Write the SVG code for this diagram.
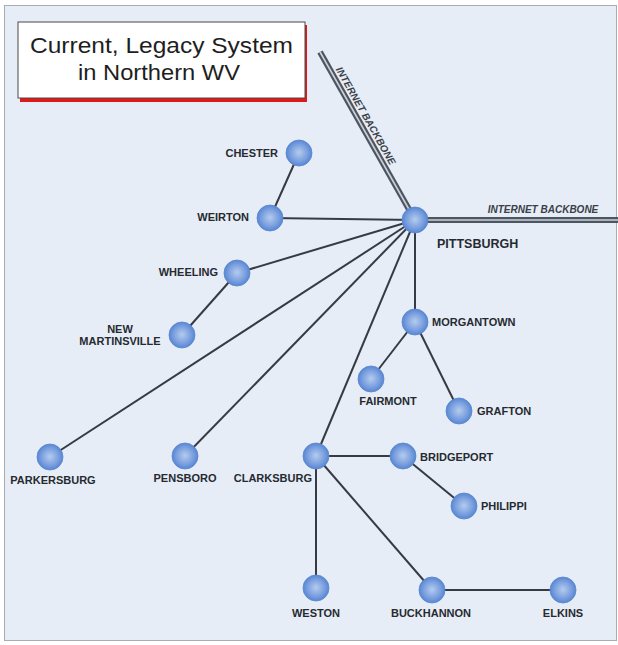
<svg xmlns="http://www.w3.org/2000/svg" width="618" height="645" viewBox="0 0 618 645">
<style>
.lbl{font-family:"Liberation Sans",Arial,sans-serif;font-weight:bold;font-size:11px;fill:#262a30}
.bb{font-family:"Liberation Sans",Arial,sans-serif;font-weight:bold;font-style:italic;font-size:10px;fill:#3a3f48}
.ln{stroke:#363b43;stroke-width:2;fill:none}
.bbo{stroke:#4d5561;stroke-width:6;fill:none}
.bbi{stroke:#c9d0da;stroke-width:1.6;fill:none}
.node{fill:url(#sph);stroke:#5a86cf;stroke-width:0.8}
.title{font-family:"Liberation Sans",Arial,sans-serif;font-size:22px;fill:#1e1e1e}
</style>
<defs>
<radialGradient id="sph" cx="0.5" cy="0.5" r="0.55" fx="0.5" fy="0.48">
<stop offset="0" stop-color="#b4cbee"/>
<stop offset="0.55" stop-color="#7fa3e0"/>
<stop offset="1" stop-color="#4e7fd0"/>
</radialGradient>
</defs>
<rect x="0" y="0" width="618" height="645" fill="#ffffff"/>
<rect x="4.5" y="5.5" width="612" height="635" fill="#e7edf6" stroke="#a9adb3" stroke-width="1"/>

<g id="title">
<rect x="20" y="25" width="287" height="77" fill="#e01818"/>
<rect x="18" y="22" width="287" height="76" fill="#ffffff" stroke="#4a4a4a" stroke-width="1"/>
<text class="title" x="161.5" y="53" text-anchor="middle" textLength="263" lengthAdjust="spacingAndGlyphs">Current, Legacy System</text>
<text class="title" x="159" y="80" text-anchor="middle" textLength="162" lengthAdjust="spacingAndGlyphs">in Northern WV</text>
</g>

<g id="connectors">
<line class="bbo" x1="320" y1="52" x2="415" y2="220"/>
<line class="bbi" x1="320" y1="52" x2="415" y2="220"/>
<line class="bbo" x1="415" y1="220" x2="618" y2="220"/>
<line class="bbi" x1="415" y1="220" x2="618" y2="220"/>
<line class="ln" x1="415" y1="220" x2="270" y2="218"/>
<line class="ln" x1="415" y1="220" x2="237" y2="273"/>
<line class="ln" x1="415" y1="220" x2="50" y2="457"/>
<line class="ln" x1="415" y1="220" x2="185" y2="456"/>
<line class="ln" x1="415" y1="220" x2="316" y2="456"/>
<line class="ln" x1="415" y1="220" x2="415" y2="322"/>
<line class="ln" x1="299" y1="153" x2="270" y2="218"/>
<line class="ln" x1="237" y1="273" x2="182" y2="335"/>
<line class="ln" x1="415" y1="322" x2="371" y2="379"/>
<line class="ln" x1="415" y1="322" x2="459" y2="411"/>
<line class="ln" x1="316" y1="456" x2="403" y2="456"/>
<line class="ln" x1="316" y1="456" x2="316" y2="588"/>
<line class="ln" x1="316" y1="456" x2="432" y2="590"/>
<line class="ln" x1="403" y1="456" x2="464" y2="506"/>
<line class="ln" x1="432" y1="590" x2="563" y2="590"/>
<text class="bb" transform="translate(320,52) rotate(60.5)" x="78" y="-5" text-anchor="middle">INTERNET BACKBONE</text>
<text class="bb" x="543" y="213" text-anchor="middle">INTERNET BACKBONE</text>
</g>

<g id="pittsburgh"><circle class="node" cx="415" cy="220" r="13"/><text class="lbl" x="437" y="248" style="font-size:12.5px">PITTSBURGH</text></g>
<g id="chester"><circle class="node" cx="299" cy="153" r="13"/><text class="lbl" x="278" y="157" text-anchor="end">CHESTER</text></g>
<g id="weirton"><circle class="node" cx="270" cy="218" r="13"/><text class="lbl" x="249" y="221" text-anchor="end">WEIRTON</text></g>
<g id="wheeling"><circle class="node" cx="237" cy="273" r="13"/><text class="lbl" x="218" y="276" text-anchor="end">WHEELING</text></g>
<g id="new-martinsville"><circle class="node" cx="182" cy="335" r="13"/><text class="lbl" x="120" y="333" text-anchor="middle">NEW</text><text class="lbl" x="120" y="345" text-anchor="middle">MARTINSVILLE</text></g>
<g id="parkersburg"><circle class="node" cx="50" cy="457" r="13"/><text class="lbl" x="53" y="484" text-anchor="middle">PARKERSBURG</text></g>
<g id="pensboro"><circle class="node" cx="185" cy="456" r="13"/><text class="lbl" x="185" y="482" text-anchor="middle">PENSBORO</text></g>
<g id="clarksburg"><circle class="node" cx="316" cy="456" r="13"/><text class="lbl" x="312" y="482" text-anchor="end">CLARKSBURG</text></g>
<g id="morgantown"><circle class="node" cx="415" cy="322" r="13"/><text class="lbl" x="432" y="326">MORGANTOWN</text></g>
<g id="fairmont"><circle class="node" cx="371" cy="379" r="13"/><text class="lbl" x="388" y="405" text-anchor="middle">FAIRMONT</text></g>
<g id="grafton"><circle class="node" cx="459" cy="411" r="13"/><text class="lbl" x="477" y="415">GRAFTON</text></g>
<g id="bridgeport"><circle class="node" cx="403" cy="456" r="13"/><text class="lbl" x="420" y="461">BRIDGEPORT</text></g>
<g id="philippi"><circle class="node" cx="464" cy="506" r="13"/><text class="lbl" x="481" y="510">PHILIPPI</text></g>
<g id="weston"><circle class="node" cx="316" cy="588" r="13"/><text class="lbl" x="316" y="617" text-anchor="middle">WESTON</text></g>
<g id="buckhannon"><circle class="node" cx="432" cy="590" r="13"/><text class="lbl" x="431" y="617" text-anchor="middle">BUCKHANNON</text></g>
<g id="elkins"><circle class="node" cx="563" cy="590" r="13"/><text class="lbl" x="563" y="617" text-anchor="middle">ELKINS</text></g>
</svg>
